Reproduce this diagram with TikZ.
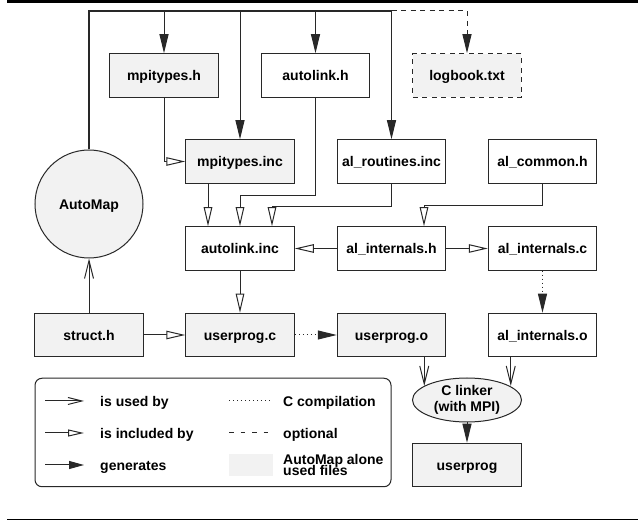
\documentclass[tikz,border=0pt]{standalone}
\usepackage{fontspec}
\setmainfont{Liberation Sans}
\usetikzlibrary{arrows.meta,shapes.geometric}
\definecolor{lg}{RGB}{242,242,242}
\definecolor{ln}{RGB}{40,40,40}
\begin{document}
\begin{tikzpicture}[x=1pt,y=-1pt,
  every node/.style={font=\bfseries\fontsize{14}{16}\selectfont},
  box/.style={draw=ln, line width=1pt, minimum width=108.5pt, minimum height=43.5pt, inner sep=0pt, text height=11pt, text depth=0pt},
  gbox/.style={box, fill=lg},
  conn/.style={draw=ln, line width=1pt},
  gentip/.tip={Triangle[length=19pt,width=9pt]},
  inctip/.tip={Triangle[open,length=19pt,width=8.5pt,fill=white]},
  usetip/.tip={Straight Barb[length=18pt,width=9pt]},
  gen/.style={conn, -gentip},
  inc/.style={conn, -inctip},
  use/.style={conn, -usetip},
  comp/.style={conn, dash pattern=on 1pt off 3pt},
  opt/.style={conn, dash pattern=on 5pt off 4.5pt},
  ltext/.style={anchor=base west, inner sep=0pt},
]
\useasboundingbox (0,0) rectangle (638,521);
% rules
\draw[line width=3.5pt] (7,1.75) -- (638,1.75);
\draw[line width=1pt] (7,520) -- (638,520);

% nodes
\node[gbox] (mh) at (164,75.5) {mpitypes.h};
\node[box] (ah) at (315.5,75.5) {autolink.h};
\node[gbox, dash pattern=on 5pt off 4.5pt] (lb) at (467,75.5) {logbook.txt};
\node[gbox] (mi) at (240,161.5) {mpitypes.inc};
\node[box] (ar) at (391.5,161.5) {al\_routines.inc};
\node[box] (ac) at (542.5,161.5) {al\_common.h};
\node[circle, draw=ln, fill=lg, line width=1pt, minimum size=108pt, inner sep=0pt, text height=11pt, text depth=0pt] (am) at (89,204) {AutoMap};
\node[box] (ai) at (240,248.5) {autolink.inc};
\node[box] (aih) at (391.5,248.5) {al\_internals.h};
\node[box] (aic) at (542.5,248.5) {al\_internals.c};
\node[gbox] (sh) at (89,335) {struct.h};
\node[gbox] (uc) at (240,335) {userprog.c};
\node[gbox] (uo) at (391.5,335) {userprog.o};
\node[box] (aio) at (542.5,335) {al\_internals.o};
\node[ellipse, draw=ln, fill=lg, line width=1pt, minimum width=109pt, minimum height=44pt, inner sep=0pt, align=center] (cl) at (467,400) {C linker\\(with MPI)};
\node[gbox] (up) at (467,465) {userprog};

% bus from AutoMap
\coordinate (bus) at (0,11);
\draw[conn, line width=1.8pt] (am.north) -- (am.north |- bus) -- (ar.north |- bus);
\draw[opt, -gentip] (ar.north |- bus) -| (lb.north);
\draw[gen] (mh.north |- bus) -- (mh.north);
\draw[gen] (mi.north |- bus) -- (mi.north);
\draw[gen] (ah.north |- bus) -- (ah.north);
\draw[gen] (ar.north |- bus) -- (ar.north);

% includes
\draw[inc] (mh.south) |- (mi.west);
\draw[inc] ([xshift=-32pt]mi.south) -- ([xshift=-32pt]ai.north);
\draw[inc] (ah.south) -- ++(0,98) -| (ai.north);
\draw[inc] (ar.south) -- ++(0,23) -| ([xshift=32pt]ai.north);
\draw[inc] (ac.south) -- ++(0,22) -| ([xshift=32.5pt]aih.north);
\draw[inc] (aih.west) -- (ai.east);
\draw[inc] (aih.east) -- (aic.west);
\draw[inc] (ai.south) -- (uc.north);
\draw[inc] (sh.east) -- (uc.west);
\draw[use] (sh.north) -- (am.south);

% compilation
\draw[comp, -gentip] (uc.east) -- (uo.west);
\draw[comp, -gentip] (aic.south) -- (aio.north);

% linking
\draw[use] ([xshift=-22pt]uo.south east) -- ([xshift=-22pt]uo.south east |- cl.162);
\draw[use] ([xshift=23pt]aio.south west) -- ([xshift=23pt]aio.south west |- cl.18);
\draw[gen] (cl.south) -- (up.north);

% legend
\node[draw=ln, line width=1pt, rounded corners=7pt, minimum width=356pt, minimum height=108.5pt, inner sep=0pt] (leg) at (213,432.5) {};
\coordinate (u1) at (45,401); \coordinate (u2) at (84,401);
\coordinate (i1) at (45,433); \coordinate (i2) at (84,433);
\coordinate (g1) at (45,465); \coordinate (g2) at (84,465);
\coordinate (c1) at (229,401); \coordinate (c2) at (273,401);
\coordinate (o1) at (229,433); \coordinate (o2) at (273,433);
\draw[conn, -{Straight Barb[length=14pt,width=7pt]}] (u1) -- (u2);
\draw[conn, -{Triangle[open,length=16pt,width=7pt,fill=white]}] (i1) -- (i2);
\draw[conn, -{Triangle[length=15pt,width=8pt]}] (g1) -- (g2);
\draw[conn, dash pattern=on 1pt off 3pt] (c1) -- (c2);
\draw[conn, dash pattern=on 4.5pt off 7pt] (o1) -- (o2);
\node[fill=lg, minimum width=44pt, minimum height=22pt, inner sep=0pt] (sw) at (251,465) {};
\node[ltext] (t1) at (100,406.5) {is used by};
\node[ltext] (t2) at (100,439) {is included by};
\node[ltext] (t3) at (100,471) {generates};
\node[ltext] (t4) at (283,406.5) {C compilation};
\node[ltext] (t5) at (283,439) {optional};
\node[ltext] (t6) at (283,465) {AutoMap alone};
\node[ltext] (t7) at (283,475.5) {used files};
\end{tikzpicture}
\end{document}
